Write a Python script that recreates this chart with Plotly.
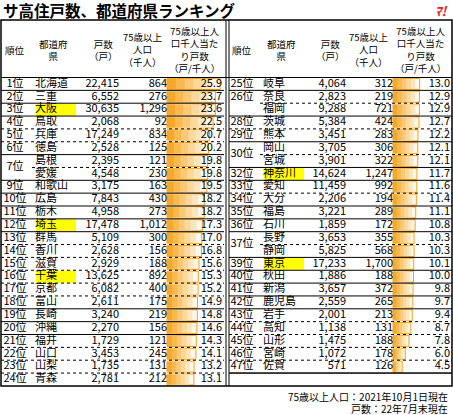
import plotly.graph_objects as go

ranks = ["1位","2位","3位","4位","5位","6位","7位","","9位","10位","11位","12位","13位","14位","15位","16位","17位","18位","19位","20位","21位","22位","23位","24位",
         "25位","26位","","28位","29位","30位","","32位","33位","34位","35位","36位","37位","","39位","40位","41位","42位","43位","44位","45位","46位","47位"]
prefs = ["北海道","三重","大阪","鳥取","兵庫","徳島","島根","愛媛","和歌山","広島","栃木","埼玉","群馬","香川","滋賀","千葉","京都","富山","長崎","沖縄","福井","山口","山梨","青森",
         "岐阜","奈良","福岡","茨城","熊本","岡山","宮城","神奈川","愛知","大分","福島","石川","長野","静岡","東京","秋田","新潟","鹿児島","岩手","高知","山形","宮崎","佐賀"]
units = [22415,6552,30635,2068,17249,2528,2395,4548,3175,7843,4958,17478,5109,2628,2929,13625,6082,2611,3240,2270,1729,3453,1735,2781,
         4064,2823,9288,5384,3451,3705,3901,14624,11459,2206,3221,1859,3653,5825,17233,1886,3657,2559,2001,1138,1475,1072,571]
pop75 = [864,276,1296,92,834,125,121,230,163,430,273,1012,300,156,188,892,400,175,219,156,121,245,131,212,
         312,219,721,424,283,306,322,1247,992,194,289,172,355,568,1700,188,372,265,213,131,188,178,126]
ratio = [25.9,23.7,23.6,22.5,20.7,20.2,19.8,19.8,19.5,18.2,18.2,17.3,17.0,16.8,15.6,15.3,15.2,14.9,14.8,14.6,14.3,14.1,13.2,13.1,
         13.0,12.9,12.9,12.7,12.2,12.1,12.1,11.7,11.6,11.4,11.1,10.8,10.3,10.3,10.1,10.0,9.8,9.7,9.4,8.7,7.8,6.0,4.5]
highlight = ["大阪","埼玉","千葉","神奈川","東京"]
rank_span = {6: 2, 29: 2, 36: 2}
solid_after = {0,1,2,5,7,8,9,10,11,17,18,19,23, 24,26,28,30,31,33,34,35,37,38,39,40,41,46}

FONT = "Noto Sans CJK JP"
TOP, HB, RH = 20, 77.5, 12.85
def yc(r): return HB + RH * r + RH / 2

panels = [dict(x0=1, rank=15, pref=36, units=119, pop=167, bar=167, val=222),
          dict(x0=229, rank=242, pref=264, units=346, pop=393, bar=393, val=450)]
SC = 2.05
SHADES = ["#fef3df", "#fde6bd", "#fcd89a", "#fbc976", "#f9b94f", "#f7a82a"]

fig = go.Figure()
shapes = []
for p in range(2):
    P = panels[p]
    idx = list(range(24 * p, min(24 * p + 24, 47)))
    rows = [i - 24 * p for i in idx]
    ys = [yc(r) for r in rows]
    for i, r in zip(idx, rows):
        if prefs[i] in highlight:
            shapes.append(dict(type="rect", x0=P["pref"], x1=P["pref"] + 40, y0=yc(r) - 6, y1=yc(r) + 6,
                               fillcolor="#ffff00", line_width=0, layer="below"))
    vals = [ratio[i] for i in idx]
    fig.add_trace(go.Bar(orientation="h", y=ys, x=[v * SC for v in vals], base=P["bar"], width=11,
                         marker=dict(color="#fff8ec", line=dict(color="#f7a21b", width=1))))
    n = len(SHADES)
    for k, c in enumerate(SHADES[1:], start=1):
        frac = 1 - k / n
        fig.add_trace(go.Bar(orientation="h", y=ys, x=[v * SC * frac for v in vals], base=P["bar"], width=10,
                             marker=dict(color=c, line_width=0)))
    rk_y, rk_t = [], []
    for i, r in zip(idx, rows):
        if ranks[i]:
            span = rank_span.get(i, 1)
            rk_y.append(yc(r) + RH * (span - 1) / 2); rk_t.append(ranks[i])
    tf = dict(family=FONT, size=11, color="black")
    fig.add_trace(go.Scatter(x=[P["rank"]] * len(rk_y), y=rk_y, text=rk_t, mode="text", textposition="middle center", textfont=tf))
    fig.add_trace(go.Scatter(x=[P["pref"] - 1] * len(idx), y=ys, text=[prefs[i] for i in idx], mode="text", textposition="middle right", textfont=tf))
    fig.add_trace(go.Scatter(x=[P["units"]] * len(idx), y=ys, text=[f"{units[i]:,}" for i in idx], mode="text", textposition="middle left", textfont=tf))
    fig.add_trace(go.Scatter(x=[P["pop"]] * len(idx), y=ys, text=[f"{pop75[i]:,}" for i in idx], mode="text", textposition="middle left", textfont=tf))
    fig.add_trace(go.Scatter(x=[P["val"]] * len(idx), y=ys, text=[f"{ratio[i]:.1f}" for i in idx], mode="text", textposition="middle left", textfont=tf))
    for i, r in zip(idx, rows):
        yb = HB + RH * (r + 1)
        if r == 23: continue
        in_tie = i in rank_span or i == 25
        xs = P["pref"] - 4 if in_tie else P["x0"]
        shapes.append(dict(type="line", x0=xs, x1=P["x0"] + 223, y0=yb, y1=yb,
                           line=dict(color="black", width=1, dash="solid" if i in solid_after else "dot")))
    if p == 1:
        yb = HB + RH * 23
        shapes.append(dict(type="line", x0=P["x0"], x1=452, y0=yb, y1=yb, line=dict(color="black", width=1)))
    hdr = [(P["rank"], "順位"), (P["pref"] + 17, "都道府<br>県"), (P["units"] - 16, "戸数<br>（戸）"),
           (P["pop"] - 24, "75歳以上<br>人口<br>（千人）"), (P["bar"] + 27, "75歳以上人<br>口千人当た<br>り戸数<br>（戸/千人）")]
    for hx, ht in hdr:
        fig.add_annotation(x=hx, y=(TOP + HB) / 2 + 1, text=ht, showarrow=False, xanchor="center", yanchor="middle",
                           font=dict(family=FONT, size=9.5, color="black"), align="center")

shapes += [dict(type="rect", x0=1, x1=452, y0=TOP, y1=HB + RH * 24, line=dict(color="black", width=1.5)),
           dict(type="line", x0=226, x1=226, y0=TOP, y1=HB + RH * 24, line=dict(color="black", width=1)),
           dict(type="line", x0=229, x1=229, y0=TOP, y1=HB + RH * 24, line=dict(color="black", width=1)),
           dict(type="line", x0=1, x1=452, y0=HB, y1=HB, line=dict(color="black", width=1))]

fig.add_annotation(x=1, y=10, text="<b>サ高住戸数、都道府県ランキング</b>", showarrow=False, xanchor="left", yanchor="middle",
                   font=dict(family=FONT, size=15.5, color="black"))
fig.add_annotation(x=450, y=10, text="<b><i>ﾏ!</i></b>", showarrow=False, xanchor="right", yanchor="middle",
                   font=dict(family=FONT, size=13, color="#e8201a"))
fig.add_annotation(x=450, y=396, text="75歳以上人口：2021年10月1日現在", showarrow=False, xanchor="right", yanchor="middle",
                   font=dict(family=FONT, size=10, color="black"))
fig.add_annotation(x=450, y=408, text="戸数：22年7月末現在", showarrow=False, xanchor="right", yanchor="middle",
                   font=dict(family=FONT, size=10, color="black"))

fig.update_layout(width=453, height=415, margin=dict(l=0, r=0, t=0, b=0, pad=0), showlegend=False, autosize=False,
                  plot_bgcolor="white", paper_bgcolor="white", barmode="overlay", shapes=shapes,
                  xaxis=dict(range=[0, 453], autorange=False, visible=False, fixedrange=True, domain=[0, 1]),
                  yaxis=dict(range=[415, 0], autorange=False, visible=False, fixedrange=True, domain=[0, 1]))
fig.write_html("out.html", config={"responsive": False, "displayModeBar": False},
               post_script="document.body.style.margin='0';document.body.style.overflow='hidden';")
